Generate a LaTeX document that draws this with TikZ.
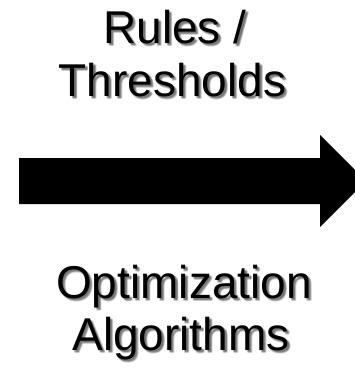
\documentclass[tikz,border=0pt]{standalone}
\usepackage{fontspec}
\setmainfont{Liberation Sans}
% caption text with a soft drop shadow: name, x, y, text
\newcommand\shadowtext[4]{%
  \foreach \dx/\dy in {1.5/1.5,2.5/2.5,2/3,3/2,2/2,3/3}
    \node[halo] at (#2+\dx,#3+\dy) {#4};
  \node[caption] (#1) at (#2,#3) {#4};}
\begin{document}
\begin{tikzpicture}[x=1pt,y=-1pt,
  caption/.style={font=\fontsize{46}{53}\selectfont, inner sep=0pt, anchor=base},
  halo/.style={caption, text=black, opacity=0.12},
  blockarrow/.style={fill=black}]
\useasboundingbox (0,0) rectangle (355,372);
\clip (0,0) rectangle (355,372);

% upper label
\shadowtext{rules}{175}{43}{Rules /}
\shadowtext{thresholds}{172.5}{96}{Thresholds}

% broad arrow in the middle
\fill[blockarrow] (19,158) -- (320,158) -- (320,135) -- (366,181)
  -- (320,227) -- (320,204) -- (19,204) -- cycle;

% lower label
\shadowtext{optimization}{184}{298}{Optimization}
\shadowtext{algorithms}{181}{350}{Algorithms}
\end{tikzpicture}
\end{document}
